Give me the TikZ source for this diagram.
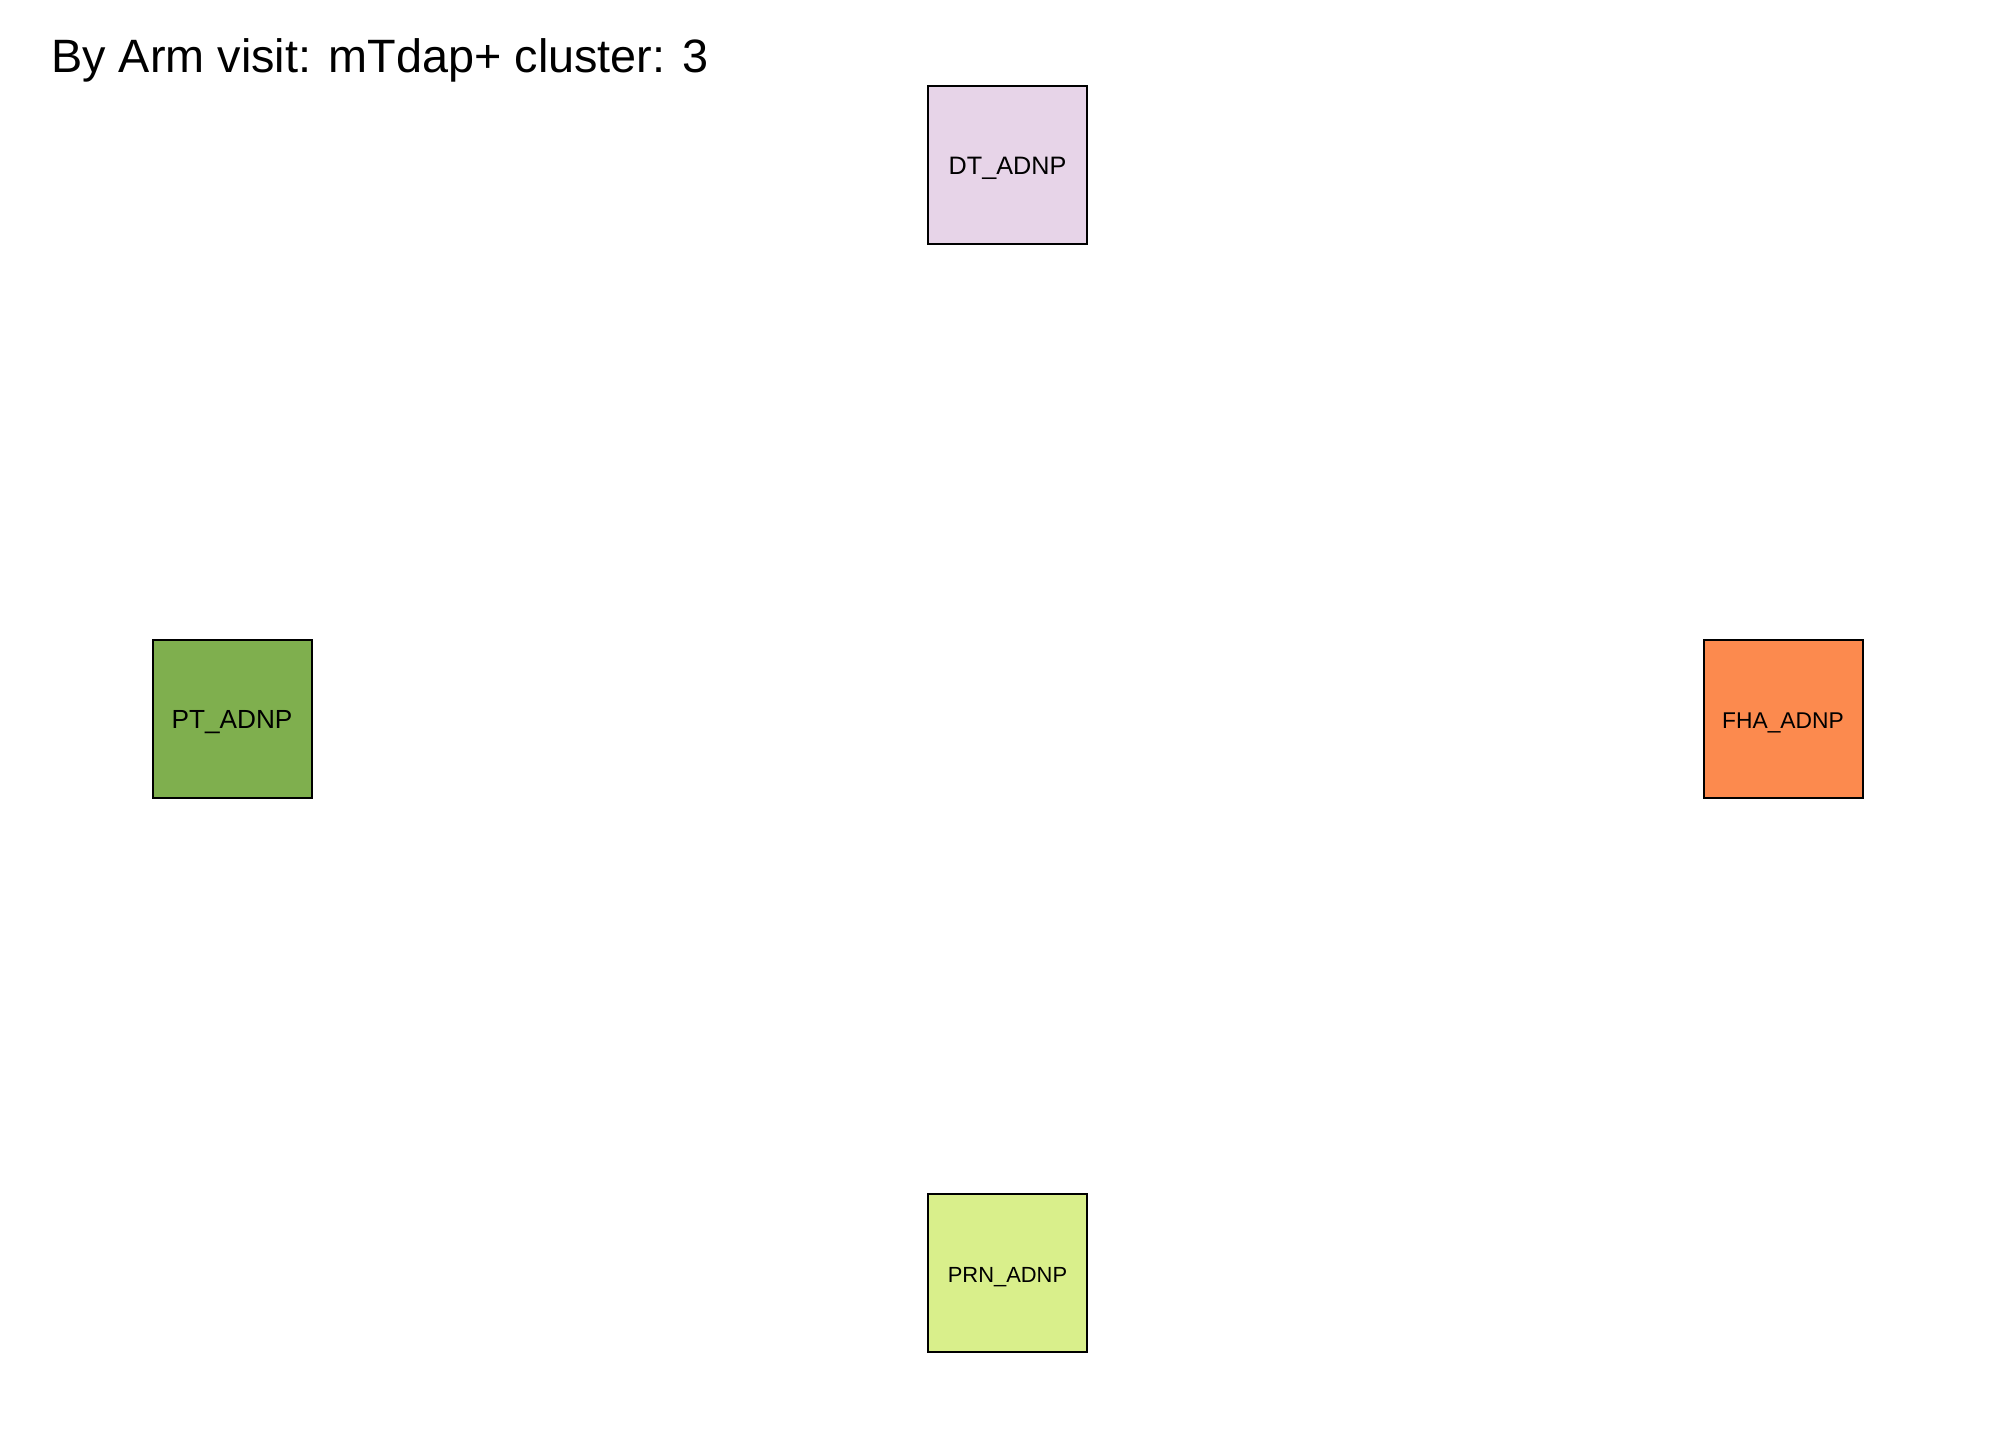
\documentclass[tikz,border=0pt]{standalone}
\usepackage{fontspec}
\setmainfont{Liberation Sans}
\definecolor{cDT}{HTML}{E7D4E8}
\definecolor{cPT}{HTML}{7FAF4E}
\definecolor{cFHA}{HTML}{FC8A4E}
\definecolor{cPRN}{HTML}{D9EF8B}
\tikzset{
  vbox/.style={draw=black, line width=1pt, minimum width=79.5pt, minimum height=79pt, inner sep=0pt, anchor=center, text depth=0pt, text height=0.95em},
}
\begin{document}
\begin{tikzpicture}[x=0.5pt,y=-0.5pt]
\useasboundingbox (0,0) rectangle (2016,1440);
\node[anchor=base west, inner sep=0pt, font=\fontsize{23.4pt}{28pt}\selectfont] (title) at (51,72) {By Arm visit: mTdap+ cluster: 3};
\node[vbox, fill=cDT, font=\fontsize{12.6pt}{15pt}\selectfont] (dt) at (1007.5,165) {DT\_ADNP};
\node[vbox, fill=cPT, font=\fontsize{13.1pt}{15pt}\selectfont] (pt) at (232,719) {PT\_ADNP};
\node[vbox, fill=cFHA, font=\fontsize{11.4pt}{14pt}\selectfont] (fha) at (1783,719) {FHA\_ADNP};
\node[vbox, fill=cPRN, font=\fontsize{10.95pt}{13pt}\selectfont] (prn) at (1007.5,1273) {PRN\_ADNP};
\end{tikzpicture}
\end{document}
